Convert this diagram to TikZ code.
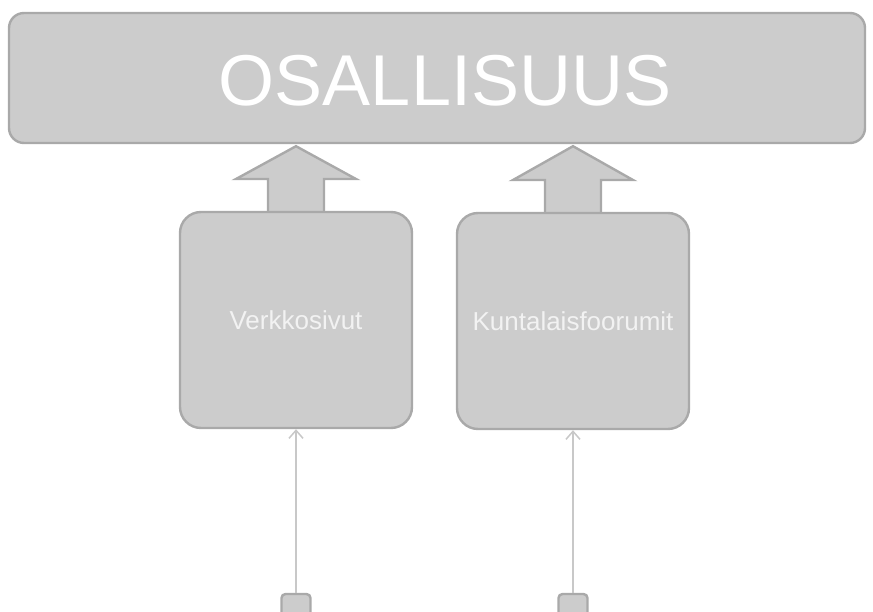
\documentclass[tikz,border=0pt]{standalone}
\usepackage{fontspec}
\setmainfont{Liberation Sans}
\usepackage{tikz}
\usetikzlibrary{calc,arrows.meta}
\definecolor{boxfill}{HTML}{CCCCCC}
\definecolor{boxline}{HTML}{A9A9A9}
\definecolor{linkline}{HTML}{C8C8C8}
\definecolor{softwhite}{HTML}{F2F2F2}
\tikzset{
  box/.style={draw=boxline, fill=boxfill, line width=2.4pt, inner sep=0pt},
  bigbox/.style={box, rounded corners=15pt, minimum width=856pt, minimum height=130pt},
  bigtext/.style={text=white, inner sep=0pt, font=\fontsize{72}{72}\selectfont},
  itembox/.style={box, rounded corners=21pt, minimum width=232pt, minimum height=216pt, text=softwhite, font=\fontsize{26}{26}\selectfont},
  srcbox/.style={box, rounded corners=4pt, minimum size=29pt},
  blockarrow/.style={draw=boxline, fill=boxfill, line width=2.4pt, line join=miter},
  link/.style={draw=linkline, line width=1.5pt, -{Straight Barb[length=8pt,width=14pt]}}
}
\begin{document}
\begin{tikzpicture}[x=1pt, y=-1pt]
    \clip (0,0) rectangle (873,612); \useasboundingbox (0,0) rectangle (873,612);
    \node[bigbox] (top) at (437,78) {};
    \node[bigtext] (title) at ($(top.center)+(8,3)$) {OSALLISUUS};
    \coordinate (pos_web) at (296,320); \coordinate (pos_forum) at (573,321);
    % block arrows first, boxes drawn over their feet
    \foreach \b in {web,forum} {
        \draw[blockarrow] ($(pos_\b)+(-28,-108)$) -- ++(0,-33) -- ++(-32,0)
            -- ($(pos_\b |- top.south)+(0,2)$) -- ($(pos_\b)+(60,-141)$) -- ++(-32,0) -- ++(0,33);
    }
    \node[itembox] (web) at (pos_web) {Verkkosivut};
    \node[itembox] (forum) at (pos_forum) {Kuntalaisfoorumit};
    \node[srcbox] (src_web) at (296,608.5) {}; \node[srcbox] (src_forum) at (573,608.5) {};
    \draw[link] (src_web) -- (web); \draw[link] (src_forum) -- (forum);
\end{tikzpicture}
\end{document}
